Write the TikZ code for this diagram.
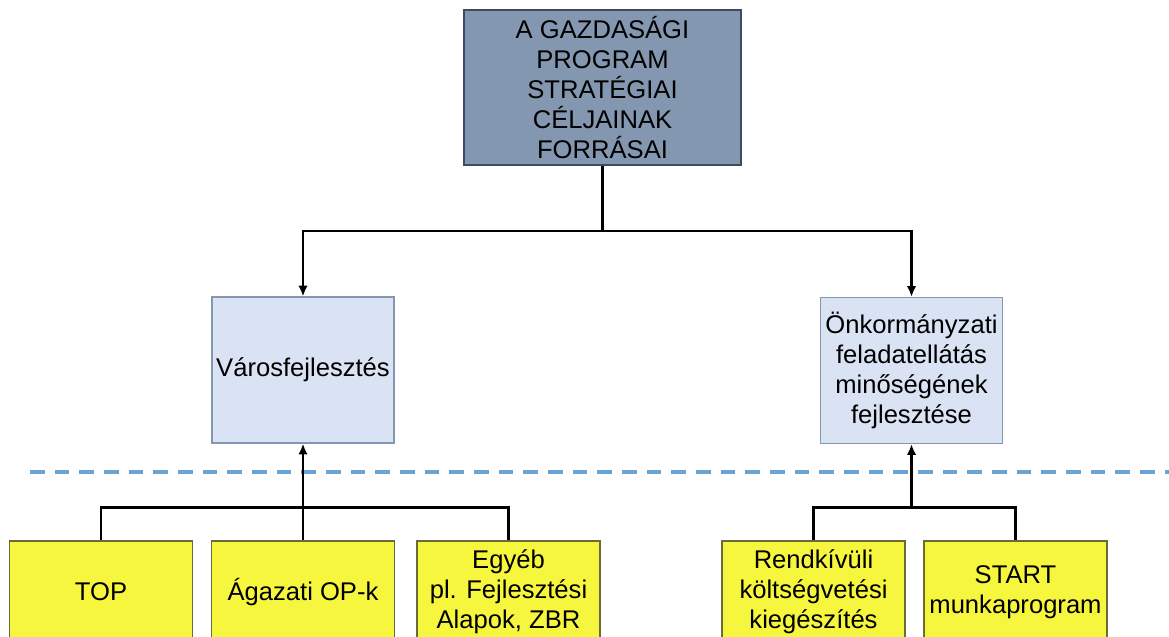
\documentclass[tikz,border=0pt]{standalone}
\usepackage{fontspec}
\setmainfont{Liberation Sans}
\usepackage{xcolor}
\usepackage{tikz}
\usetikzlibrary{arrows.meta,positioning}

\definecolor{celfill}{HTML}{8497B0}
\definecolor{celdraw}{HTML}{3E4C63}
\definecolor{agfill}{HTML}{DAE3F3}
\definecolor{agdraw}{HTML}{8497B0}
\definecolor{forrfill}{HTML}{F7F63E}
\definecolor{forrdraw}{HTML}{6B6B3A}
\definecolor{hatar}{HTML}{6AA4D4}

\tikzset{
  boxtext/.style={align=center, inner sep=2pt,
    font=\fontsize{19.2}{22.5}\selectfont},
  celbox/.style={boxtext, draw=celdraw, line width=1.1pt, fill=celfill,
    minimum width=207.75pt, minimum height=116.25pt},
  agbox/.style={boxtext, draw=agdraw, line width=0.9pt, fill=agfill,
    minimum width=136.5pt, minimum height=109.5pt},
  forrbox/.style={boxtext, draw=forrdraw, line width=0.8pt, fill=forrfill,
    minimum width=137.25pt, minimum height=76.5pt},
  conn/.style={line width=2.2pt, black},
  hatarvonal/.style={hatar, line width=2.6pt, dash pattern=on 11pt off 7.5pt}
}

\begin{document}
\begin{tikzpicture}[x=0.75pt, y=-0.75pt, >={Latex[length=8pt,width=7pt]}]
\useasboundingbox (0,0) rectangle (1169,636);

% felso szint
\node[celbox] (cel) at (602.5,87.5)
  {A GAZDASÁGI\\PROGRAM\\STRATÉGIAI\\CÉLJAINAK\\FORRÁSAI};

% kozepso szint
\node[agbox] (varos) at (303,370) {Városfejlesztés};
\node[agbox] (onkorm) at (911.5,370.5)
  {Önkormányzati\\feladatellátás\\minőségének\\fejlesztése};

% also szint
\node[forrbox] (top) at (101,592) {TOP};
\node[forrbox] (agazati) at (303,592) {Ágazati OP-k};
\node[forrbox] (egyeb) at (508.5,592) {Egyéb\\pl. Fejlesztési\\Alapok, ZBR};
\node[forrbox] (rendk) at (813.5,592)
  {Rendkívüli\\költségvetési\\kiegészítés};
\node[forrbox] (start) at (1015.5,592) {START\\munkaprogram};

\draw[hatarvonal] (30,472) -- (1169,472);

% kapcsolatok
\coordinate (elag) at (602.5,231);
\draw[conn] (cel.south) -- (elag);
\draw[conn,->] (elag) -| (varos.north);
\draw[conn,->] (elag) -| (onkorm.north);

\draw[conn] (top.north) -- ++(0,-33) -| (egyeb.north);
\draw[conn,->] (agazati.north) -- (varos.south);

\coordinate (jobb) at (911.5,508);
\draw[conn] (rendk.north) -- ++(0,-33) -| (start.north);
\draw[conn,->] (jobb) -- (onkorm.south);
\end{tikzpicture}
\end{document}
